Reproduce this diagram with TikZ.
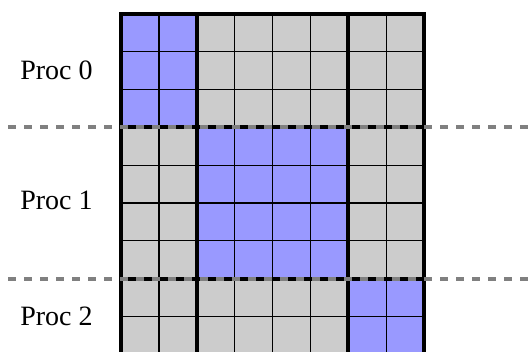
\documentclass[tikz,border=0pt]{standalone}
\usepackage{fontspec}
\setmainfont{Liberation Serif}
\newfontfamily\procfont{Liberation Serif}
\definecolor{cellblue}{RGB}{153,153,255}
\definecolor{cellgray}{RGB}{204,204,204}
\definecolor{dashgray}{RGB}{128,128,128}
\begin{document}
\begin{tikzpicture}[x=0.75pt,y=-0.75pt,
  thinline/.style={line width=0.9pt,black},
  thickline/.style={line width=3pt,black},
  divider/.style={line width=3pt,dashgray,dash pattern=on 6pt off 6pt},
  proclabel/.style={anchor=base west,inner sep=0pt,font=\procfont\fontsize{21}{25}\selectfont}]
\useasboundingbox (0,0) rectangle (532,352);
\begin{scope}
\clip (0,0) rectangle (532,352);
% cells
\fill[cellgray] (121,14) rectangle (424.2,360);
\fill[cellblue] (121,14) rectangle (196.8,127.4);
\fill[cellblue] (196.8,127.4) rectangle (348.4,278.6);
\fill[cellblue] (348.4,278.6) rectangle (424.2,360);
% thin grid lines
\foreach \i in {1,3,4,5,7} \draw[thinline] ({121+37.9*\i},14) -- ({121+37.9*\i},360);
\foreach \j in {1,2,4,5,6,8} \draw[thinline] (121,{14+37.8*\j}) -- (424.2,{14+37.8*\j});
% thick lines
\draw[thickline] (121,360) -- (121,14) -- (424.2,14) -- (424.2,360);
\draw[thickline] (196.8,14) -- (196.8,360);
\draw[thickline] (348.4,14) -- (348.4,360);
\draw[thickline] (121,127.4) -- (424.2,127.4);
\draw[thickline] (121,278.6) -- (424.2,278.6);
\end{scope}
% dividers
\coordinate (d0a) at (8,127.4);
\coordinate (d0b) at (532,127.4);
\coordinate (d1a) at (8,278.6);
\coordinate (d1b) at (532,278.6);
\draw[divider] (d0a) -- (d0b);
\draw[divider] (d1a) -- (d1b);
% labels
\node[proclabel] (p0) at (20,79.3) {Proc 0};
\node[proclabel] (p1) at (20,210) {Proc 1};
\node[proclabel] (p2) at (20,326) {Proc 2};
\end{tikzpicture}
\end{document}
